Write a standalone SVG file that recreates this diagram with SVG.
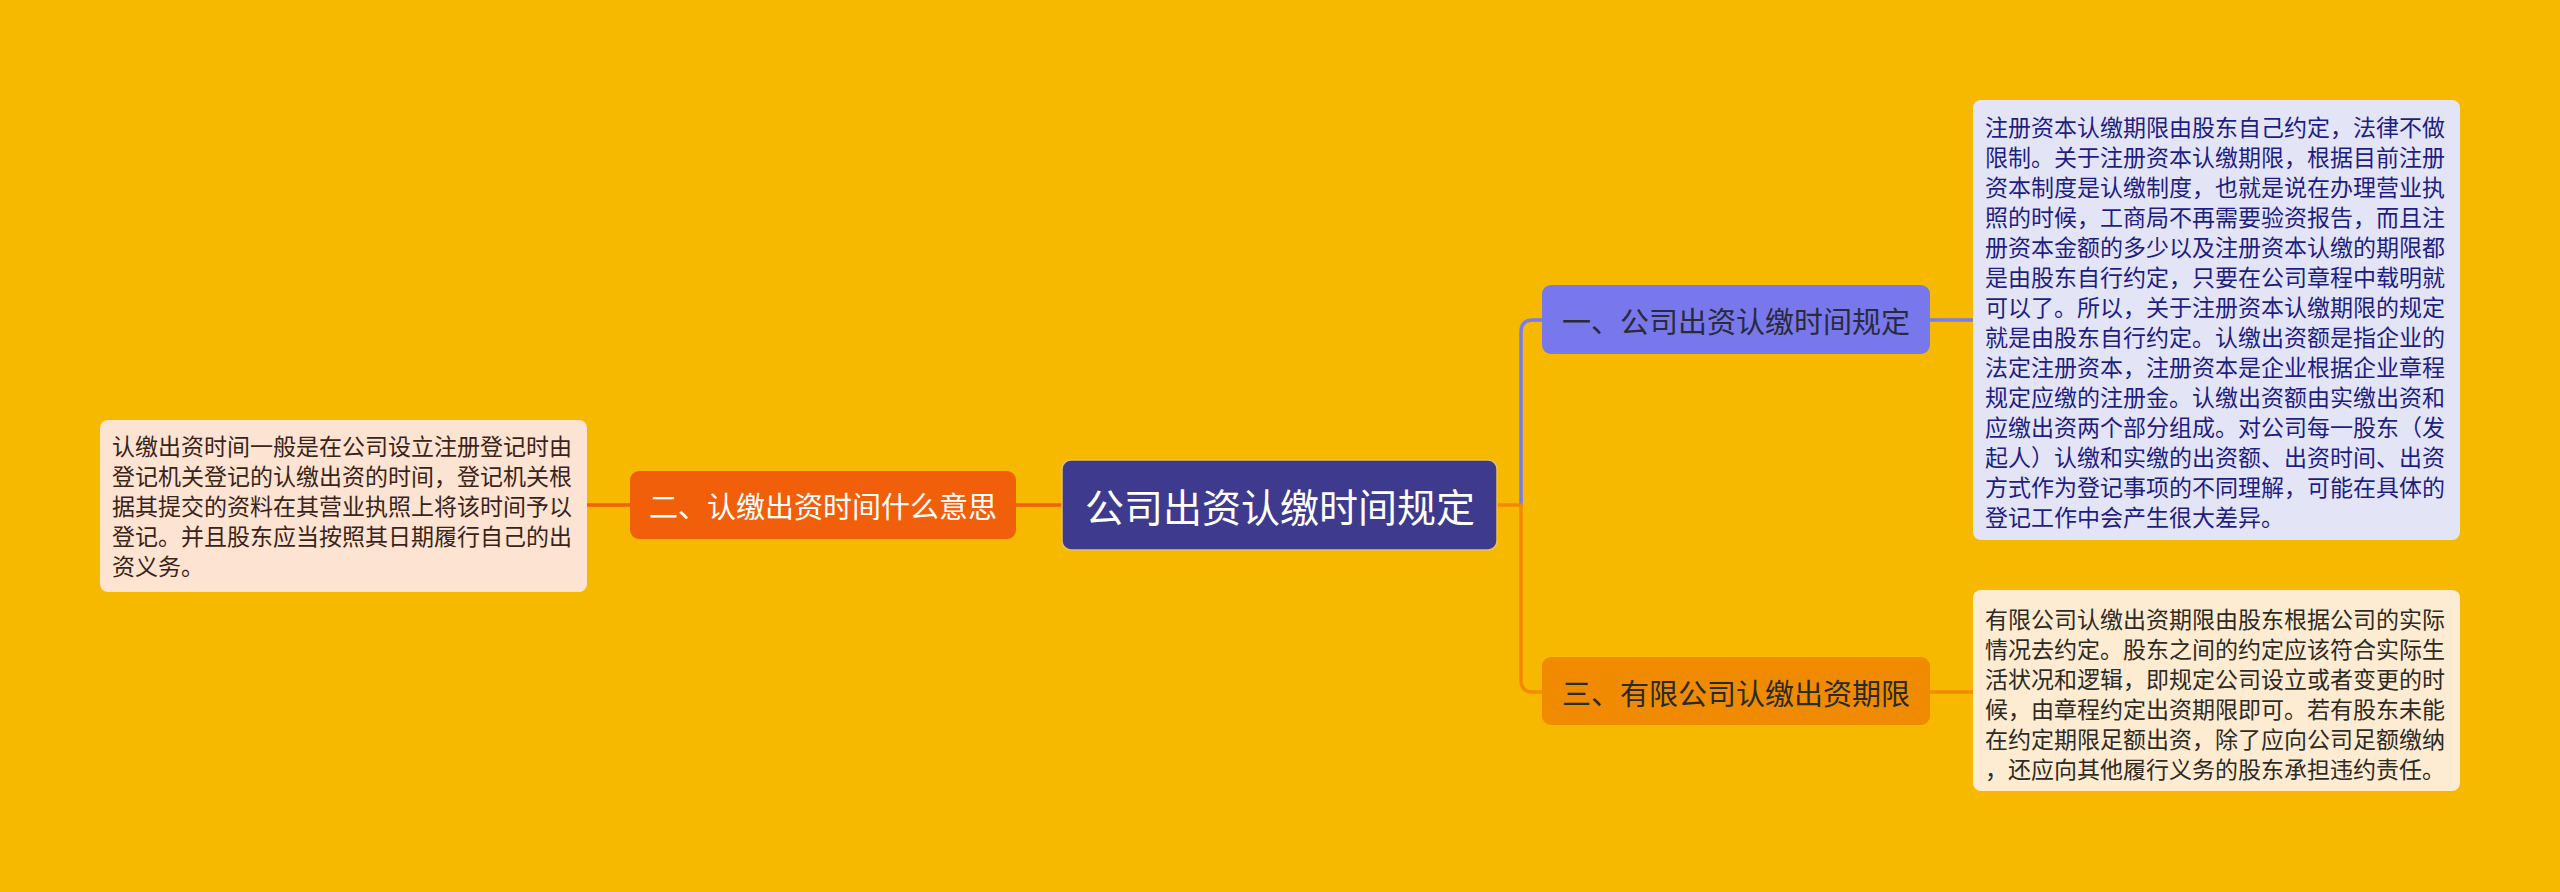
<svg xmlns="http://www.w3.org/2000/svg" width="2560" height="892" viewBox="0 0 2560 892">
<style>
text{font-family:"Noto Sans CJK SC","Noto Sans",sans-serif;dominant-baseline:central}
.conn{fill:none;stroke-width:3.5;stroke-linecap:round}
.leaf{font-size:23px}
.mid{font-size:29px}
</style>
<rect width="2560" height="892" fill="#F6B900"/>
<g id="connectors">
<path class="conn" stroke="#F25F0A" d="M1063 505 H1016"/>
<path class="conn" stroke="#F25F0A" d="M630 505 H587"/>
<path class="conn" stroke="#F08A00" d="M1497 505 H1521"/>
<path class="conn" stroke="#7B7BEB" d="M1521 505 V332 Q1521 320 1533 320 H1543"/>
<path class="conn" stroke="#F08A00" d="M1521 505 V680 Q1521 692 1533 692 H1543"/>
<path class="conn" stroke="#7B7BEB" d="M1930 320 H1973"/>
<path class="conn" stroke="#F08A00" d="M1930 692 H1973"/>
</g>
<g id="root">
<rect x="1062" y="460" width="435" height="90" rx="9" fill="#3E3A8E" stroke="#E8C060" stroke-width="1.5"/>
<text x="1280" y="505" font-size="39" fill="#FFFFFF" text-anchor="middle">公司出资认缴时间规定</text>
</g>
<g id="node2">
<rect x="630" y="471" width="386" height="68" rx="9" fill="#F25F0A"/>
<text class="mid" x="823" y="505" fill="#FFFFFF" text-anchor="middle">二、认缴出资时间什么意思</text>
</g>
<g id="node1">
<rect x="1542" y="285" width="388" height="69" rx="9" fill="#7878EC"/>
<text class="mid" x="1736" y="320" fill="#2A2A3A" text-anchor="middle">一、公司出资认缴时间规定</text>
</g>
<g id="node3">
<rect x="1542" y="657" width="388" height="68" rx="9" fill="#F08A00"/>
<text class="mid" x="1736" y="692" fill="#2A2A2A" text-anchor="middle">三、有限公司认缴出资期限</text>
</g>
<g id="leafLeft">
<rect x="100" y="420" width="487" height="172" rx="8" fill="#FCE3D2"/>
<text class="leaf" fill="#3A2418">
<tspan x="112" y="445">认缴出资时间一般是在公司设立注册登记时由</tspan>
<tspan x="112" y="475">登记机关登记的认缴出资的时间，登记机关根</tspan>
<tspan x="112" y="505">据其提交的资料在其营业执照上将该时间予以</tspan>
<tspan x="112" y="535">登记。并且股东应当按照其日期履行自己的出</tspan>
<tspan x="112" y="565">资义务。</tspan>
</text>
</g>
<g id="leaf1">
<rect x="1973" y="100" width="487" height="440" rx="8" fill="#E4E4F7"/>
<text class="leaf" fill="#1E1E82">
<tspan x="1985" y="126">注册资本认缴期限由股东自己约定，法律不做</tspan>
<tspan x="1985" y="156">限制。关于注册资本认缴期限，根据目前注册</tspan>
<tspan x="1985" y="186">资本制度是认缴制度，也就是说在办理营业执</tspan>
<tspan x="1985" y="216">照的时候，工商局不再需要验资报告，而且注</tspan>
<tspan x="1985" y="246">册资本金额的多少以及注册资本认缴的期限都</tspan>
<tspan x="1985" y="276">是由股东自行约定，只要在公司章程中载明就</tspan>
<tspan x="1985" y="306">可以了。所以，关于注册资本认缴期限的规定</tspan>
<tspan x="1985" y="336">就是由股东自行约定。认缴出资额是指企业的</tspan>
<tspan x="1985" y="366">法定注册资本，注册资本是企业根据企业章程</tspan>
<tspan x="1985" y="396">规定应缴的注册金。认缴出资额由实缴出资和</tspan>
<tspan x="1985" y="426">应缴出资两个部分组成。对公司每一股东（发</tspan>
<tspan x="1985" y="456">起人）认缴和实缴的出资额、出资时间、出资</tspan>
<tspan x="1985" y="486">方式作为登记事项的不同理解，可能在具体的</tspan>
<tspan x="1985" y="516">登记工作中会产生很大差异。</tspan>
</text>
</g>
<g id="leaf2">
<rect x="1973" y="590" width="487" height="201" rx="8" fill="#FDEBD2"/>
<text class="leaf" fill="#2E2A24">
<tspan x="1985" y="618">有限公司认缴出资期限由股东根据公司的实际</tspan>
<tspan x="1985" y="648">情况去约定。股东之间的约定应该符合实际生</tspan>
<tspan x="1985" y="678">活状况和逻辑，即规定公司设立或者变更的时</tspan>
<tspan x="1985" y="708">候，由章程约定出资期限即可。若有股东未能</tspan>
<tspan x="1985" y="738">在约定期限足额出资，除了应向公司足额缴纳</tspan>
<tspan x="1985" y="768">，还应向其他履行义务的股东承担违约责任。</tspan>
</text>
</g>
</svg>
